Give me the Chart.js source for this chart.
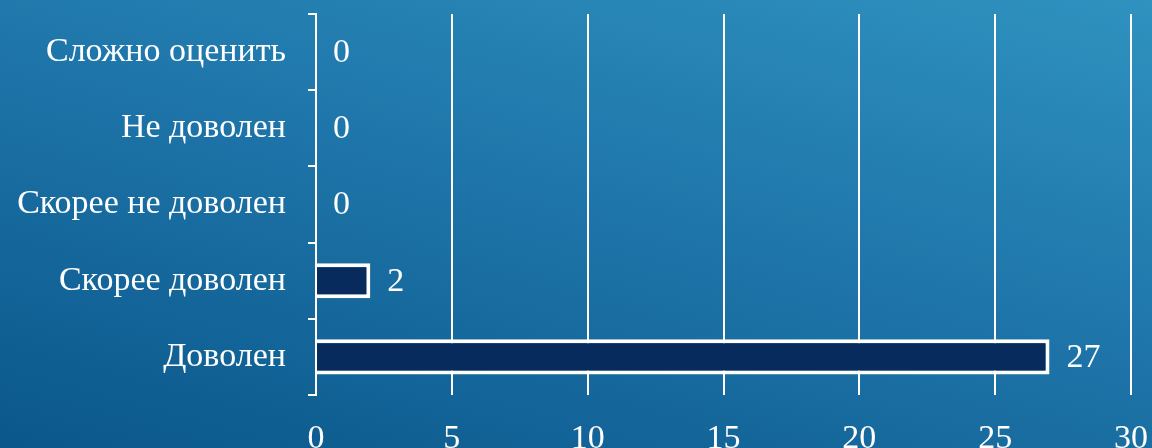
<!DOCTYPE html>
<html>
<head>
<meta charset="utf-8">
<script src="https://cdn.jsdelivr.net/npm/chart.js@4"></script>
<style>
    html, body { margin: 0; padding: 0; }
    body {
        width: 1152px;
        height: 448px;
        background: linear-gradient(195deg, #2f92bf 0%, #1f76aa 45%, #0a578b 100%);
    }
    #wrap { position: relative; width: 1152px; height: 448px; }
</style>
</head>
<body>
<div id="wrap"><canvas id="satisfactionChart"></canvas></div>
<script>
var categories = ['Сложно оценить', 'Не доволен', 'Скорее не доволен', 'Скорее доволен', 'Доволен'];
var answers = [0, 0, 0, 2, 27];
var xMin = 0;
var xMax = 30;
var xStep = 5;

var fontFamily = "'Liberation Serif', 'DejaVu Serif', serif";
var fontSize = 34;

// подписи значений справа от столбцов
const valueLabels = {
    id: 'valueLabels',
    afterDatasetsDraw(chart) {
        const ctx = chart.ctx;
        const meta = chart.getDatasetMeta(0);
        ctx.save();
        ctx.fillStyle = '#ffffff';
        ctx.font = fontSize + 'px ' + fontFamily;
        ctx.textAlign = 'left';
        ctx.textBaseline = 'middle';
        meta.data.forEach((bar, i) => {
            ctx.fillText(String(answers[i]), bar.x + 17, bar.y + 1);
        });
        ctx.restore();
    }
};

const ctx = document.getElementById('satisfactionChart').getContext('2d');

let chart = new Chart(ctx, {
    type: 'bar',
    data: {
        labels: categories,
        datasets: [
            {
                label: 'Ответы',
                data: answers,
                backgroundColor: '#072b5c',
                borderColor: '#ffffff',
                borderWidth: 4,
                barPercentage: 0.46,
                categoryPercentage: 1
            }
        ]
    },
    options: {
        indexAxis: 'y',
        responsive: true,
        maintainAspectRatio: false,
        animation: false,
        layout: {
            padding: { top: 14, right: 21, left: 0, bottom: 0 }
        },
        plugins: {
            legend: { display: false },
            tooltip: { enabled: false }
        },
        scales: {
            x: {
                min: xMin,
                max: xMax,
                ticks: {
                    stepSize: xStep,
                    color: '#ffffff',
                    padding: 27,
                    font: { family: fontFamily, size: fontSize, lineHeight: 1 }
                },
                grid: {
                    color: '#ffffff',
                    lineWidth: 2,
                    drawTicks: false
                },
                border: { display: false },
                afterFit: function(scale) {
                    scale.height = 53;
                    scale.paddingLeft = 0;
                    scale.paddingRight = 0;
                }
            },
            y: {
                ticks: {
                    color: '#ffffff',
                    padding: 22,
                    font: { family: fontFamily, size: fontSize }
                },
                grid: {
                    color: '#ffffff',
                    lineWidth: 2,
                    drawOnChartArea: false,
                    tickLength: 8
                },
                border: { display: true, color: '#ffffff', width: 2 },
                afterFit: function(scale) {
                    scale.width = 316;
                    scale.paddingTop = 0;
                    scale.paddingBottom = 0;
                }
            }
        }
    },
    plugins: [valueLabels]
});
</script>
</body>
</html>
